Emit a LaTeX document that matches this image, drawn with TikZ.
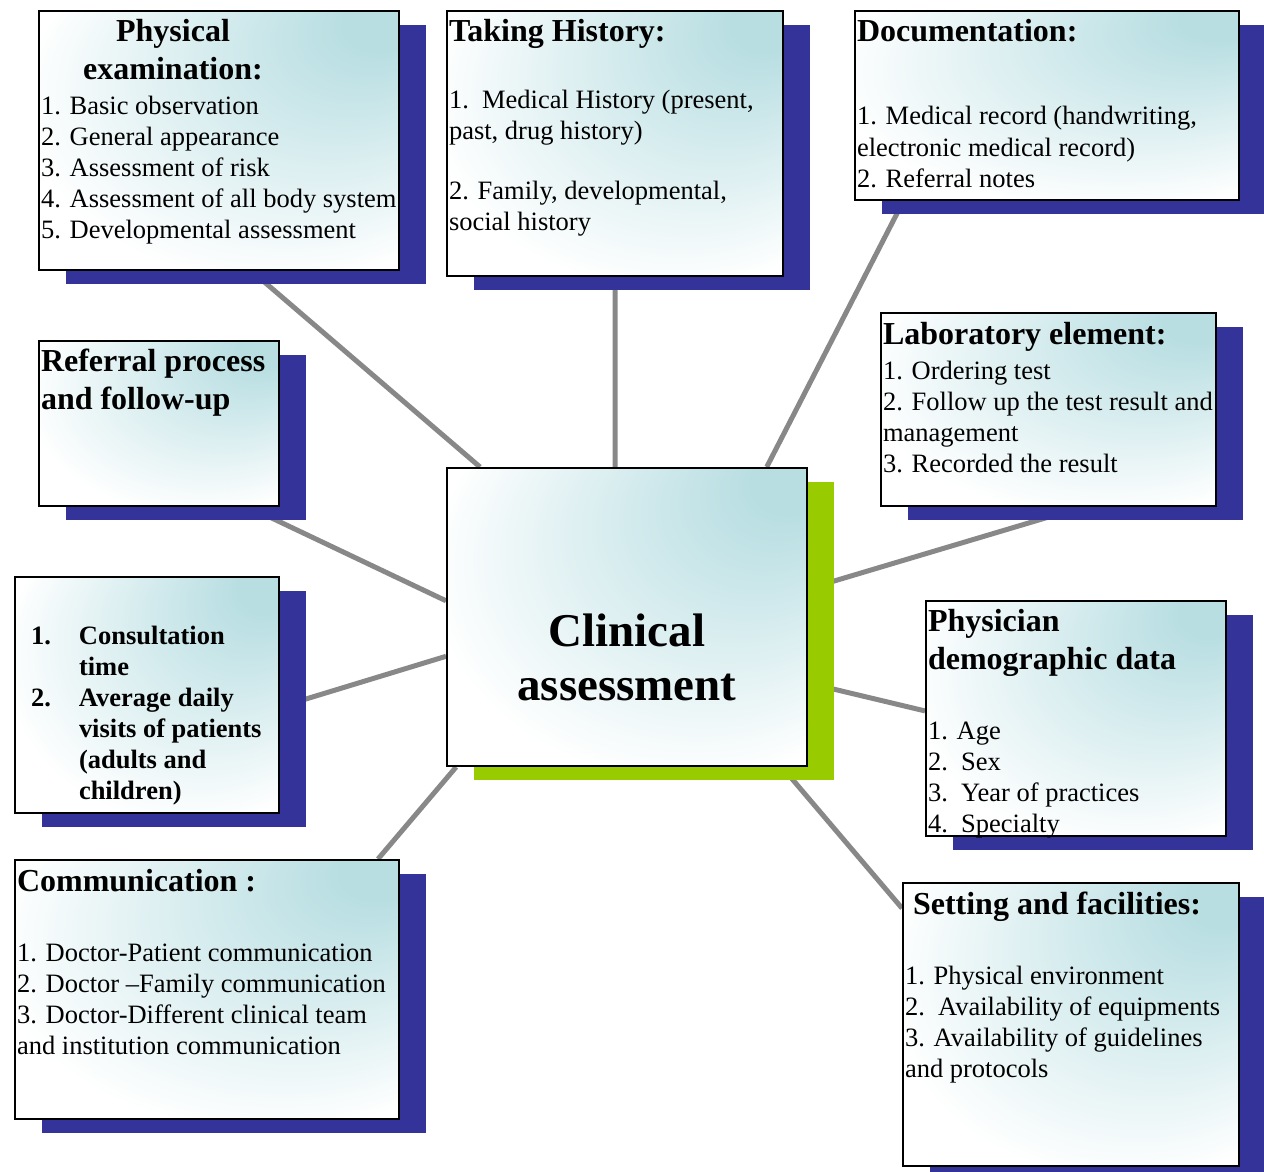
\documentclass[tikz,border=0pt]{standalone}
\usepackage{fontspec}
\setmainfont{Liberation Serif}
\usetikzlibrary{shadows,backgrounds,calc}

\definecolor{boxteal}{RGB}{184,222,226}
\definecolor{shadowblue}{RGB}{51,51,153}
\definecolor{shadowgreen}{RGB}{153,204,0}
\definecolor{linkgray}{RGB}{136,136,136}
\pgfdeclareradialshading{cardglow}{\pgfpoint{25bp}{25bp}}{color(0bp)=(boxteal); color(5bp)=(boxteal); color(35bp)=(white); color(50bp)=(white)}

\newcommand{\headfont}{\bfseries\fontsize{32}{38}\selectfont}
\newcommand{\itemfont}{\mdseries\fontsize{26.5}{31}\selectfont}
\newcommand{\cardbody}[3]{\makebox[#1][l]{\parbox[c][#2][t]{520pt}{#3}}}

\begin{document}
\begin{tikzpicture}[x=1pt,y=1pt]
\tikzstyle{every node}+=[inner sep=0pt]
\tikzstyle{card}=[draw=black, line width=2pt, shade, shading=cardglow, anchor=north west, inner xsep=2pt, drop shadow={shadow xshift=27pt, shadow yshift=-14pt, fill=shadowblue, opacity=1}]
\tikzstyle{hub}=[card, drop shadow={shadow xshift=27pt, shadow yshift=-14pt, fill=shadowgreen, opacity=1}]
\tikzstyle{link}=[draw=linkgray, line width=5pt]
\useasboundingbox (0,0) rectangle (1264,-1172);
\node[card] (phys) at (38,-10) {\cardbody{356pt}{259pt}{\headfont\rule{0pt}{30pt}\makebox[264pt]{Physical}\\\makebox[264pt]{examination:}\par
\vspace{4pt}\itemfont 1. Basic observation\\2. General appearance\\3. Assessment of risk\\4. Assessment of all body system\\5. Developmental assessment}};
\node[card] (hist) at (446,-10) {\cardbody{332pt}{265pt}{\headfont\rule{0pt}{30pt}Taking History:\par
\vspace{36pt}\itemfont 1.\ \ Medical History (present,\\past, drug history)\par
\vspace{30pt}2. Family, developmental,\\social history}};
\node[card] (doc) at (854,-10) {\cardbody{380pt}{189pt}{\headfont\rule{0pt}{30pt}Documentation:\par
\vspace{53pt}\itemfont 1. Medical record (handwriting,\\electronic medical record)\\2. Referral notes}};
\node[card] (ref) at (38,-340) {\cardbody{236pt}{165pt}{\headfont\rule{0pt}{30pt}Referral process\\and follow-up}};
\node[card] (lab) at (880,-312) {\cardbody{331pt}{193pt}{\headfont\rule{0pt}{31pt}Laboratory element:\par
\vspace{4pt}\itemfont 1. Ordering test\\2. Follow up the test result and\\management\\3. Recorded the result}};
\node[hub] (clin) at (446,-467) {\parbox[c][298pt][t]{356pt}{\centering\bfseries\fontsize{47}{54}\selectfont\rule{0pt}{178pt}Clinical\\assessment}};
\node[card] (cons) at (14,-576) {\cardbody{260pt}{236pt}{\itemfont\bfseries\rule{0pt}{67pt}\hspace*{14pt}\makebox[48pt][l]{1.}Consultation\\
\hspace*{62pt}time\\
\hspace*{14pt}\makebox[48pt][l]{2.}Average daily\\
\hspace*{62pt}visits of patients\\
\hspace*{62pt}(adults and\\
\hspace*{62pt}children)}};
\node[card] (demo) at (925,-600) {\cardbody{296pt}{235pt}{\headfont\rule{0pt}{30pt}Physician\\demographic data\par
\vspace{39pt}\itemfont 1. Age\\2.\ \ Sex\\3.\ \ Year of practices\\4.\ \ Specialty}};
\node[card] (comm) at (14,-859) {\cardbody{380pt}{259pt}{\headfont\rule{0pt}{31pt}Communication :\par
\vspace{39pt}\itemfont 1. Doctor-Patient communication\\2. Doctor --Family communication\\3. Doctor-Different clinical team\\and institution communication}};
\node[card] (set) at (902,-882) {\cardbody{332pt}{283pt}{\headfont\rule{0pt}{31pt}\hspace*{8pt}Setting and facilities:\par
\vspace{39pt}\itemfont 1. Physical environment\\2.\ \ Availability of equipments\\3. Availability of guidelines\\and protocols}};
\begin{scope}[on background layer]
\draw[link] ($(phys.south west)!.59!(phys.south east)$) -- ($(clin.north west)!.094!(clin.north east)$);
\draw[link] ($(hist.south west)!.5!(hist.south east)$) -- ($(clin.north west)!.467!(clin.north east)$);
\draw[link] ($(doc.south west)!.128!(doc.south east)$) -- ($(clin.north west)!.886!(clin.north east)$);
\draw[link] ($(ref.south west)!.87!(ref.south east)$) -- ($(clin.north west)!.446!(clin.south west)$);
\draw[link] ($(lab.south west)!.6!(lab.south east)$) -- ($(clin.north east)!.406!(clin.south east)$);
\draw[link] ($(cons.north east)!.55!(cons.south east)$) -- ($(clin.north west)!.631!(clin.south west)$);
\draw[link] ($(clin.north east)!.72!(clin.south east)$) -- ($(demo.north west)!.468!(demo.south west)$);
\draw[link] ($(comm.north west)!.943!(comm.north east)$) -- ($(clin.south west)!.028!(clin.south east)$);
\draw[link] ($(clin.south west)!.928!(clin.south east)$) -- ($(set.north west)!.092!(set.south west)$);
\end{scope}
\end{tikzpicture}
\end{document}
